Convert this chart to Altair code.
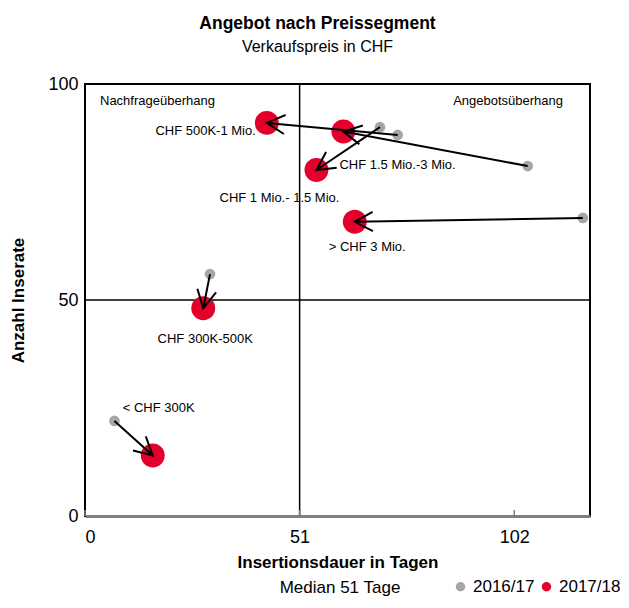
import math
import altair as alt
import pandas as pd

# ---------------- data ----------------
segments = ["< CHF 300K", "CHF 300K-500K", "CHF 500K-1 Mio.",
            "CHF 1 Mio.- 1.5 Mio.", "CHF 1.5 Mio.-3 Mio.", "> CHF 3 Mio."]
x_2016 = [7.0, 29.7, 74.3, 70.1, 105.2, 118.3]
y_2016 = [22.0, 56.0, 88.2, 90.0, 81.0, 69.0]
x_2017 = [16.1, 28.1, 43.2, 55.0, 61.4, 64.1]
y_2017 = [14.0, 48.1, 91.0, 80.1, 89.0, 68.1]
years = ["2016/17", "2017/18"]
x_ticks = [0, 51, 102]
y_ticks = [0, 50, 100]
median_x = [51]
median_y = [50]

# ---------------- styling / layout ----------------
W, H = 505, 432
XMAX, YMAX = 120, 100
FONT = "Liberation Sans Narrow, Arial Narrow, Liberation Sans, sans-serif"
COLORS = ["#a6a6a6", "#e4002b"]
SIZES = [115, 570]
label_dx = [-30, 2, -11, -37, -4, -26]
label_dy = [-48, 31, 8, 28, 33, 25]
label_align = ["left", "center", "right", "center", "left", "left"]

sx, sy = W / XMAX, H / YMAX

df16 = pd.DataFrame({"x": x_2016, "y": y_2016, "year": years[0]})
df17 = pd.DataFrame({"x": x_2017, "y": y_2017, "year": years[1]})

arrows = pd.DataFrame({"x1": x_2016, "y1": y_2016, "x2": x_2017, "y2": y_2017})
arrows["angle"] = [
    math.degrees(math.atan2(-(b2 - b1) * sy, (a2 - a1) * sx)) % 360
    for a1, b1, a2, b2 in zip(x_2016, y_2016, x_2017, y_2017)
]

xs = alt.Scale(domain=[0, XMAX], nice=False, zero=False)
ys = alt.Scale(domain=[0, YMAX], nice=False, zero=False)

xaxis = alt.Axis(values=x_ticks, grid=False, ticks=False, domainColor="#7f7f7f",
                 domainWidth=3, labelFontSize=18, labelPadding=12, labelColor="black",
                 title="Insertionsdauer in Tagen", titleFontSize=17, titleFontWeight="bold",
                 titleColor="black", titlePadding=8, labelFont=FONT, titleFont=FONT)
yaxis = alt.Axis(values=y_ticks, grid=False, ticks=False, domain=False,
                 labelFontSize=18, labelPadding=7, labelColor="black",
                 title="Anzahl Inserate", titleFontSize=17, titleFontWeight="bold",
                 titleColor="black", titlePadding=20, labelFont=FONT, titleFont=FONT)

color_enc = alt.Color("year:N", scale=alt.Scale(domain=years, range=COLORS),
                      legend=alt.Legend(title=None, orient="none", direction="horizontal",
                                        legendX=367, legendY=494, symbolType="circle",
                                        symbolSize=90, symbolStrokeWidth=0,
                                        labelFontSize=17, labelFont=FONT, labelColor="black",
                                        columnPadding=3, labelOffset=4))

pts16 = alt.Chart(df16).mark_circle(opacity=1, size=SIZES[0]).encode(
    x=alt.X("x:Q", scale=xs, axis=xaxis),
    y=alt.Y("y:Q", scale=ys, axis=yaxis),
    color=color_enc,
)
pts17 = alt.Chart(df17).mark_circle(opacity=1, size=SIZES[1]).encode(
    x=alt.X("x:Q", scale=xs),
    y=alt.Y("y:Q", scale=ys),
    color=color_enc,
)

vline = alt.Chart(pd.DataFrame({"x": median_x})).mark_rule(color="black", strokeWidth=1.5).encode(
    x=alt.X("x:Q", scale=xs))
hline = alt.Chart(pd.DataFrame({"y": median_y})).mark_rule(color="black", strokeWidth=1.5).encode(
    y=alt.Y("y:Q", scale=ys))

tick_marks = alt.Chart(pd.DataFrame({"x": x_ticks})).mark_rule(color="#7f7f7f", strokeWidth=1.5).encode(
    x=alt.X("x:Q", scale=xs), y=alt.value(H), y2=alt.value(H - 6))

lines = alt.Chart(arrows).mark_rule(color="black", strokeWidth=2).encode(
    x=alt.X("x1:Q", scale=xs), y=alt.Y("y1:Q", scale=ys), x2="x2:Q", y2="y2:Q")

heads = alt.Chart(arrows).mark_point(
    shape="M -1 -0.53 L 0 0 L -1 0.53", filled=False, stroke="black",
    strokeWidth=2, size=1296, opacity=1).encode(
    x=alt.X("x2:Q", scale=xs), y=alt.Y("y2:Q", scale=ys),
    angle=alt.Angle("angle:Q", scale=None))

label_layers = []
for i, seg in enumerate(segments):
    df = pd.DataFrame({"x": [x_2017[i]], "y": [y_2017[i]], "t": [seg]})
    label_layers.append(
        alt.Chart(df).mark_text(align=label_align[i], baseline="middle", dx=label_dx[i],
                                dy=label_dy[i], fontSize=13, font=FONT, color="black").encode(
            x=alt.X("x:Q", scale=xs), y=alt.Y("y:Q", scale=ys), text="t:N"))

q_left = alt.Chart(pd.DataFrame({"t": ["Nachfrageüberhang"]})).mark_text(
    align="left", baseline="middle", fontSize=13, font=FONT, color="black").encode(
    x=alt.value(15), y=alt.value(17), text="t:N")
q_right = alt.Chart(pd.DataFrame({"t": ["Angebotsüberhang"]})).mark_text(
    align="right", baseline="middle", fontSize=13, font=FONT, color="black").encode(
    x=alt.value(478), y=alt.value(17), text="t:N")
median_txt = alt.Chart(pd.DataFrame({"t": ["Median 51 Tage"]})).mark_text(
    align="center", baseline="middle", fontSize=17, font=FONT, color="black").encode(
    x=alt.value(255), y=alt.value(504), text="t:N")

chart = alt.layer(vline, hline, tick_marks, pts16, pts17, lines, heads, *label_layers,
                  q_left, q_right, median_txt).properties(
    width=W, height=H,
    title=alt.TitleParams(text="Angebot nach Preissegment", subtitle="Verkaufspreis in CHF",
                          anchor="middle", dx=-20, offset=20, fontSize=17.5, fontWeight="bold",
                          subtitleFontSize=16, font=FONT, subtitleFont=FONT, color="black",
                          subtitleColor="black", subtitlePadding=7),
    autosize=alt.AutoSizeParams(type="none"),
    padding={"left": 77, "top": 76, "right": 31, "bottom": 84},
).configure_view(stroke="black", strokeWidth=2)

chart.save("out.html", embed_options={"renderer": "svg", "actions": False})
